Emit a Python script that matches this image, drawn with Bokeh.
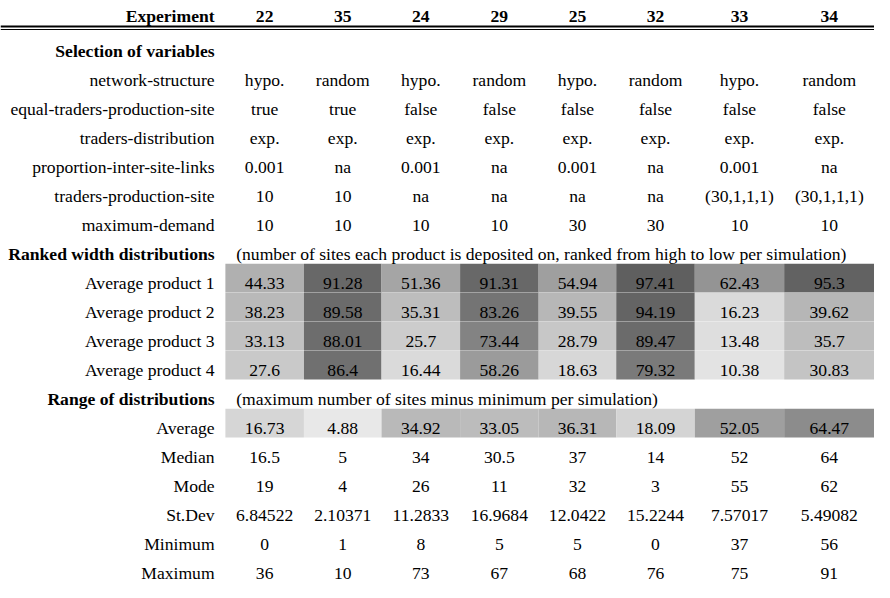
from bokeh.plotting import figure
from bokeh.models import ColumnDataSource, Range1d, LinearColorMapper
from bokeh.transform import transform
from bokeh.core.properties import value
from bokeh.embed import file_html
from bokeh.resources import INLINE

# ---------------- data ----------------
experiments = ["22", "35", "24", "29", "25", "32", "33", "34"]

selection_labels = ["network-structure", "equal-traders-production-site", "traders-distribution",
                    "proportion-inter-site-links", "traders-production-site", "maximum-demand"]
network_structure = ["hypo.", "random", "hypo.", "random", "hypo.", "random", "hypo.", "random"]
equal_traders_production_site = ["true", "true", "false", "false", "false", "false", "false", "false"]
traders_distribution = ["exp.", "exp.", "exp.", "exp.", "exp.", "exp.", "exp.", "exp."]
proportion_inter_site_links = ["0.001", "na", "0.001", "na", "0.001", "na", "0.001", "na"]
traders_production_site = ["10", "10", "na", "na", "na", "na", "(30,1,1,1)", "(30,1,1,1)"]
maximum_demand = ["10", "10", "10", "10", "30", "30", "10", "10"]

ranked_labels = ["Average product 1", "Average product 2", "Average product 3", "Average product 4"]
ranked_note = "(number of sites each product is deposited on, ranked from high to low per simulation)"
product1 = [44.33, 91.28, 51.36, 91.31, 54.94, 97.41, 62.43, 95.3]
product2 = [38.23, 89.58, 35.31, 83.26, 39.55, 94.19, 16.23, 39.62]
product3 = [33.13, 88.01, 25.7, 73.44, 28.79, 89.47, 13.48, 35.7]
product4 = [27.6, 86.4, 16.44, 58.26, 18.63, 79.32, 10.38, 30.83]

range_labels = ["Average", "Median", "Mode", "St.Dev", "Minimum", "Maximum"]
range_note = "(maximum number of sites minus minimum per simulation)"
range_average = [16.73, 4.88, 34.92, 33.05, 36.31, 18.09, 52.05, 64.47]
range_median = [16.5, 5, 34, 30.5, 37, 14, 52, 64]
range_mode = [19, 4, 26, 11, 32, 3, 55, 62]
range_stdev = [6.84522, 2.10371, 11.2833, 16.9684, 12.0422, 15.2244, 7.57017, 5.49082]
range_minimum = [0, 1, 8, 5, 5, 0, 37, 56]
range_maximum = [36, 10, 73, 67, 68, 76, 75, 91]

# ---------------- layout (reference pixel space) ----------------
W, H = 890, 598
col_edges = [229, 309, 388, 468, 548, 627, 707, 798, 890]
col_centers = [(col_edges[i] + col_edges[i + 1]) / 2 for i in range(8)]
LABEL_X = 218
NOTE_X = 240
ROW_STEP = 29.8
TEXT_LIFT = 9.5   # baseline distance above the row bottom


def row_bottom(k):
    return 300 + (k - 8) * ROW_STEP


FONT = value("Liberation Serif")
FS = "17.6px"

p = figure(width=874, height=582, output_backend="svg", toolbar_location=None,
           x_range=Range1d(0, W), y_range=Range1d(H, 0), min_border=0)
p.axis.visible = False
p.grid.visible = False
p.outline_line_color = None
p.background_fill_color = "white"


def gradient(c0, c1, n=256):
    out = []
    for i in range(n):
        t = i / (n - 1)
        g = round(c0 + (c1 - c0) * t)
        out.append("#%02x%02x%02x" % (g, g, g))
    return out


# ---------------- heat cells ----------------
def heat_rows(rows, k0, low_color, high_color):
    xs_l, xs_r, tops, bots, vals = [], [], [], [], []
    for r, row in enumerate(rows):
        b = row_bottom(k0 + r)
        for c, v in enumerate(row):
            xs_l.append(col_edges[c]); xs_r.append(col_edges[c + 1])
            tops.append(b - 29.5); bots.append(b)
            vals.append(v)
    src = ColumnDataSource(dict(left=xs_l, right=xs_r, top=tops, bottom=bots, v=vals))
    allv = [v for row in rows for v in row]
    mapper = LinearColorMapper(palette=gradient(low_color, high_color), low=min(allv), high=max(allv))
    p.quad(left="left", right="right", top="top", bottom="bottom", source=src,
           fill_color=transform("v", mapper), line_color=None)


heat_rows([product1, product2, product3, product4], 8, 0xe3, 0x5f)
heat_rows([range_average], 13, 0xe8, 0x8c)

# ---------------- header ----------------
HEAD_Y = 22.5 - (TEXT_LIFT - 3)
p.text(x=[LABEL_X], y=[HEAD_Y], text=["Experiment"], text_font=FONT, text_font_size=FS,
       text_font_style="bold", text_align="right", text_baseline="alphabetic", text_color="black")
p.text(x=col_centers, y=[HEAD_Y] * 8, text=experiments, text_font=FONT, text_font_size=FS,
       text_font_style="bold", text_align="center", text_baseline="alphabetic", text_color="black")
p.hspan(y=[26.3], line_color="black", line_width=2)
p.hspan(y=[29.5], line_color="black", line_width=1)

# ---------------- rows ----------------
def fmt(v):
    return v if isinstance(v, str) else f"{v:g}"


label_x, label_y, label_t, label_b = [], [], [], []
cell_x, cell_y, cell_t = [], [], []

sections = [
    ("Selection of variables", None, list(zip(selection_labels,
        [network_structure, equal_traders_production_site, traders_distribution,
         proportion_inter_site_links, traders_production_site, maximum_demand]))),
    ("Ranked width distributions", ranked_note, list(zip(ranked_labels,
        [product1, product2, product3, product4]))),
    ("Range of distributions", range_note, list(zip(range_labels,
        [range_average, range_median, range_mode, range_stdev, range_minimum, range_maximum]))),
]

note_x, note_y, note_t = [], [], []
k = 0
for title, note, rows in sections:
    yb = row_bottom(k) - TEXT_LIFT
    label_x.append(LABEL_X); label_y.append(yb); label_t.append(title); label_b.append("bold")
    if note:
        note_x.append(NOTE_X); note_y.append(yb); note_t.append(note)
    k += 1
    for lab, vals in rows:
        yb = row_bottom(k) - TEXT_LIFT
        label_x.append(LABEL_X); label_y.append(yb); label_t.append(lab); label_b.append("normal")
        for c, v in enumerate(vals):
            cell_x.append(col_centers[c]); cell_y.append(yb); cell_t.append(fmt(v))
        k += 1

lab_src = ColumnDataSource(dict(x=label_x, y=label_y, t=label_t, s=label_b))
p.text(x="x", y="y", text="t", text_font_style="s", source=lab_src, text_font=FONT,
       text_font_size=FS, text_align="right", text_baseline="alphabetic", text_color="black")
p.text(x=note_x, y=note_y, text=note_t, text_font=FONT, text_font_size=FS,
       text_align="left", text_baseline="alphabetic", text_color="black")
p.text(x=cell_x, y=cell_y, text=cell_t, text_font=FONT, text_font_size=FS,
       text_align="center", text_baseline="alphabetic", text_color="black")

open("out.html", "w").write(file_html(p, INLINE))
